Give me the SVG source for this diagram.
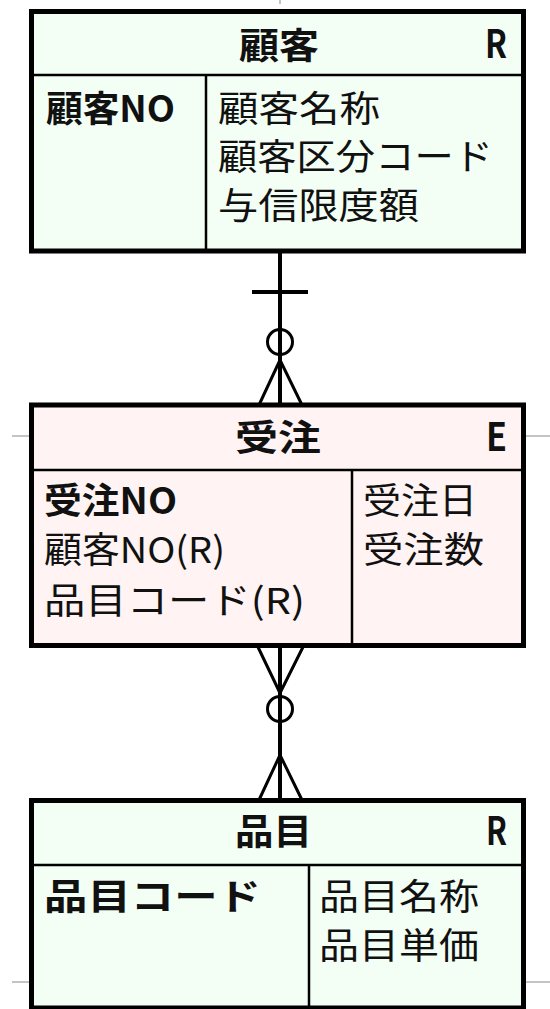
<svg xmlns="http://www.w3.org/2000/svg" width="550" height="1009" viewBox="0 0 550 1009">
<style>
.box{stroke:#000;stroke-width:5}
.ref{fill:#f3fff5}
.ent{fill:#fff4f3}
.div{stroke:#000;stroke-width:2.5;fill:none}
.t{font-family:"Noto Sans CJK JP","Noto Sans",sans-serif;font-size:36px;fill:#111}
.b{font-weight:bold}
.k{font-size:39px}
.conn{stroke:#000;stroke-width:4;fill:none}
.crow{stroke:#000;stroke-width:3;fill:none}
.ring{stroke:#000;stroke-width:3;fill:none}
.guide{stroke:#c4c4c4;stroke-width:2}
</style>
<rect width="550" height="1009" fill="#fff"/>
<g id="guides">
<line class="guide" x1="280" y1="0" x2="280" y2="4"/>
<line class="guide" x1="12" y1="436" x2="29" y2="436"/>
<line class="guide" x1="526" y1="436" x2="550" y2="436"/>
<line class="guide" x1="12" y1="982" x2="29" y2="982"/>
<line class="guide" x1="526" y1="982" x2="550" y2="982"/>
</g>
<g id="connectors">
<line class="conn" x1="280" y1="251" x2="280" y2="405"/>
<line class="conn" x1="252" y1="292" x2="308" y2="292"/>
<circle class="ring" cx="280" cy="342" r="12.5"/>
<polyline class="crow" points="259,405 280,360 302,405"/>
<line class="conn" x1="280" y1="645" x2="280" y2="800"/>
<polyline class="crow" points="257,645 280,693 304,645"/>
<circle class="ring" cx="280" cy="709" r="12.5"/>
<polyline class="crow" points="259,800 280,755 302,800"/>
</g>
<g id="kokyaku">
<rect class="box ref" x="31.5" y="11.5" width="492" height="239.5"/>
<line class="div" x1="31.5" y1="75" x2="523.5" y2="75"/>
<line class="div" x1="206" y1="75" x2="206" y2="251"/>
<text class="t b" x="239" y="59" textLength="80" lengthAdjust="spacingAndGlyphs">顧客</text>
<text class="t b k" x="485" y="58" textLength="22" lengthAdjust="spacingAndGlyphs">R</text>
<text class="t b" x="46" y="122" textLength="129" lengthAdjust="spacingAndGlyphs">顧客NO</text>
<text class="t" x="218" y="122" textLength="162" lengthAdjust="spacingAndGlyphs">顧客名称</text>
<text class="t" x="218" y="170" textLength="275" lengthAdjust="spacingAndGlyphs">顧客区分コード</text>
<text class="t" x="218" y="219" textLength="201" lengthAdjust="spacingAndGlyphs">与信限度額</text>
</g>
<g id="juchu">
<rect class="box ent" x="31.5" y="405" width="492" height="240.5"/>
<line class="div" x1="31.5" y1="470" x2="523.5" y2="470"/>
<line class="div" x1="352" y1="470" x2="352" y2="645"/>
<text class="t b" x="235" y="451" textLength="86" lengthAdjust="spacingAndGlyphs">受注</text>
<text class="t b k" x="486" y="451" textLength="21" lengthAdjust="spacingAndGlyphs">E</text>
<text class="t b" x="44" y="514" textLength="133" lengthAdjust="spacingAndGlyphs">受注NO</text>
<text class="t" x="44" y="563" textLength="181" lengthAdjust="spacingAndGlyphs">顧客NO(R)</text>
<text class="t" x="44" y="614" textLength="261" lengthAdjust="spacingAndGlyphs">品目コード(R)</text>
<text class="t" x="363" y="514" textLength="114" lengthAdjust="spacingAndGlyphs">受注日</text>
<text class="t" x="363" y="563" textLength="121" lengthAdjust="spacingAndGlyphs">受注数</text>
</g>
<g id="hinmoku">
<rect class="box ref" x="31.5" y="800.5" width="492" height="207.5"/>
<line class="div" x1="31.5" y1="865" x2="523.5" y2="865"/>
<line class="div" x1="309" y1="865" x2="309" y2="1008"/>
<text class="t b" x="235" y="845" textLength="77" lengthAdjust="spacingAndGlyphs">品目</text>
<text class="t b k" x="486" y="845" textLength="21" lengthAdjust="spacingAndGlyphs">R</text>
<text class="t b" x="44" y="910" textLength="217" lengthAdjust="spacingAndGlyphs">品目コード</text>
<text class="t" x="319" y="910" textLength="160" lengthAdjust="spacingAndGlyphs">品目名称</text>
<text class="t" x="319" y="959" textLength="160" lengthAdjust="spacingAndGlyphs">品目単価</text>
</g>
</svg>
